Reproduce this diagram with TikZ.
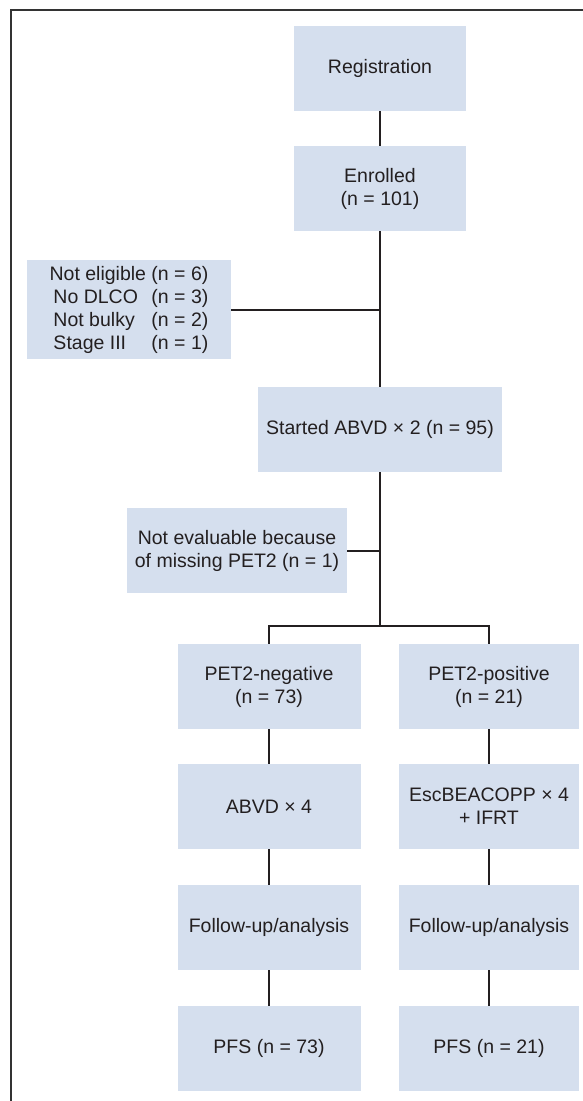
\documentclass[tikz,border=0pt]{standalone}
\usepackage{fontspec}
\setmainfont{Liberation Sans}
\definecolor{boxfill}{RGB}{213,223,238}
\definecolor{ink}{RGB}{35,31,32}
\begin{document}
\begin{tikzpicture}[x=1pt,y=-1pt,
  box/.style={fill=boxfill,draw=none,inner sep=0pt,align=center,text=ink,
    font=\fontsize{19.5}{23}\selectfont,minimum height=85pt},
  conn/.style={draw=ink,line width=2pt},
  frame/.style={draw=black!80,line width=1.4pt}]
\useasboundingbox (0,0) rectangle (583,1101);
\draw[frame] (11,1101) -- (11,10) -- (583,10);
\node[box,minimum width=172pt] (reg) at (380,68.5) {Registration};
\node[box,minimum width=172pt] (enr) at (380,188.5) {Enrolled\\(n = 101)};
\node[box,minimum width=204pt,minimum height=99pt,align=right] (noel) at (129,309.5)
  {Not eligible (n = 6)\\\makebox[98pt][l]{No DLCO}(n = 3)\\\makebox[98pt][l]{Not bulky}(n = 2)\\\makebox[98pt][l]{Stage III}(n = 1)};
\node[box,minimum width=244pt] (start) at (380,429.5) {Started ABVD \texttimes{} 2 (n = 95)};
\node[box,minimum width=220pt] (noev) at (237,550.5) {Not evaluable because\\of missing PET2 (n = 1)};
\node[box,minimum width=183pt] (neg) at (269,686.5) {PET2-negative\\(n = 73)};
\node[box,minimum width=180pt] (pos) at (489,686.5) {PET2-positive\\(n = 21)};
\node[box,minimum width=183pt] (abvd) at (269,806.5) {ABVD \texttimes{} 4};
\node[box,minimum width=180pt] (esc) at (489,806.5) {EscBEACOPP \texttimes{} 4\\+ IFRT};
\node[box,minimum width=183pt] (fu1) at (269,927.5) {Follow-up/analysis};
\node[box,minimum width=180pt] (fu2) at (489,927.5) {Follow-up/analysis};
\node[box,minimum width=183pt] (pfs1) at (269,1048.5) {PFS (n = 73)};
\node[box,minimum width=180pt] (pfs2) at (489,1048.5) {PFS (n = 21)};
\coordinate (br) at (380,626);
\draw[conn] (reg) -- (enr);
\draw[conn] (enr) -- (start);
\draw[conn] (noel.east) -- (noel.east -| enr);
\draw[conn] (start) -- (br);
\draw[conn] (noev.east) -- (noev.east -| start);
\draw[conn] (neg.north) |- (br) -| (pos.north);
\draw[conn] (neg) -- (abvd);
\draw[conn] (abvd) -- (fu1);
\draw[conn] (fu1) -- (pfs1);
\draw[conn] (pos) -- (esc);
\draw[conn] (esc) -- (fu2);
\draw[conn] (fu2) -- (pfs2);
\end{tikzpicture}
\end{document}
